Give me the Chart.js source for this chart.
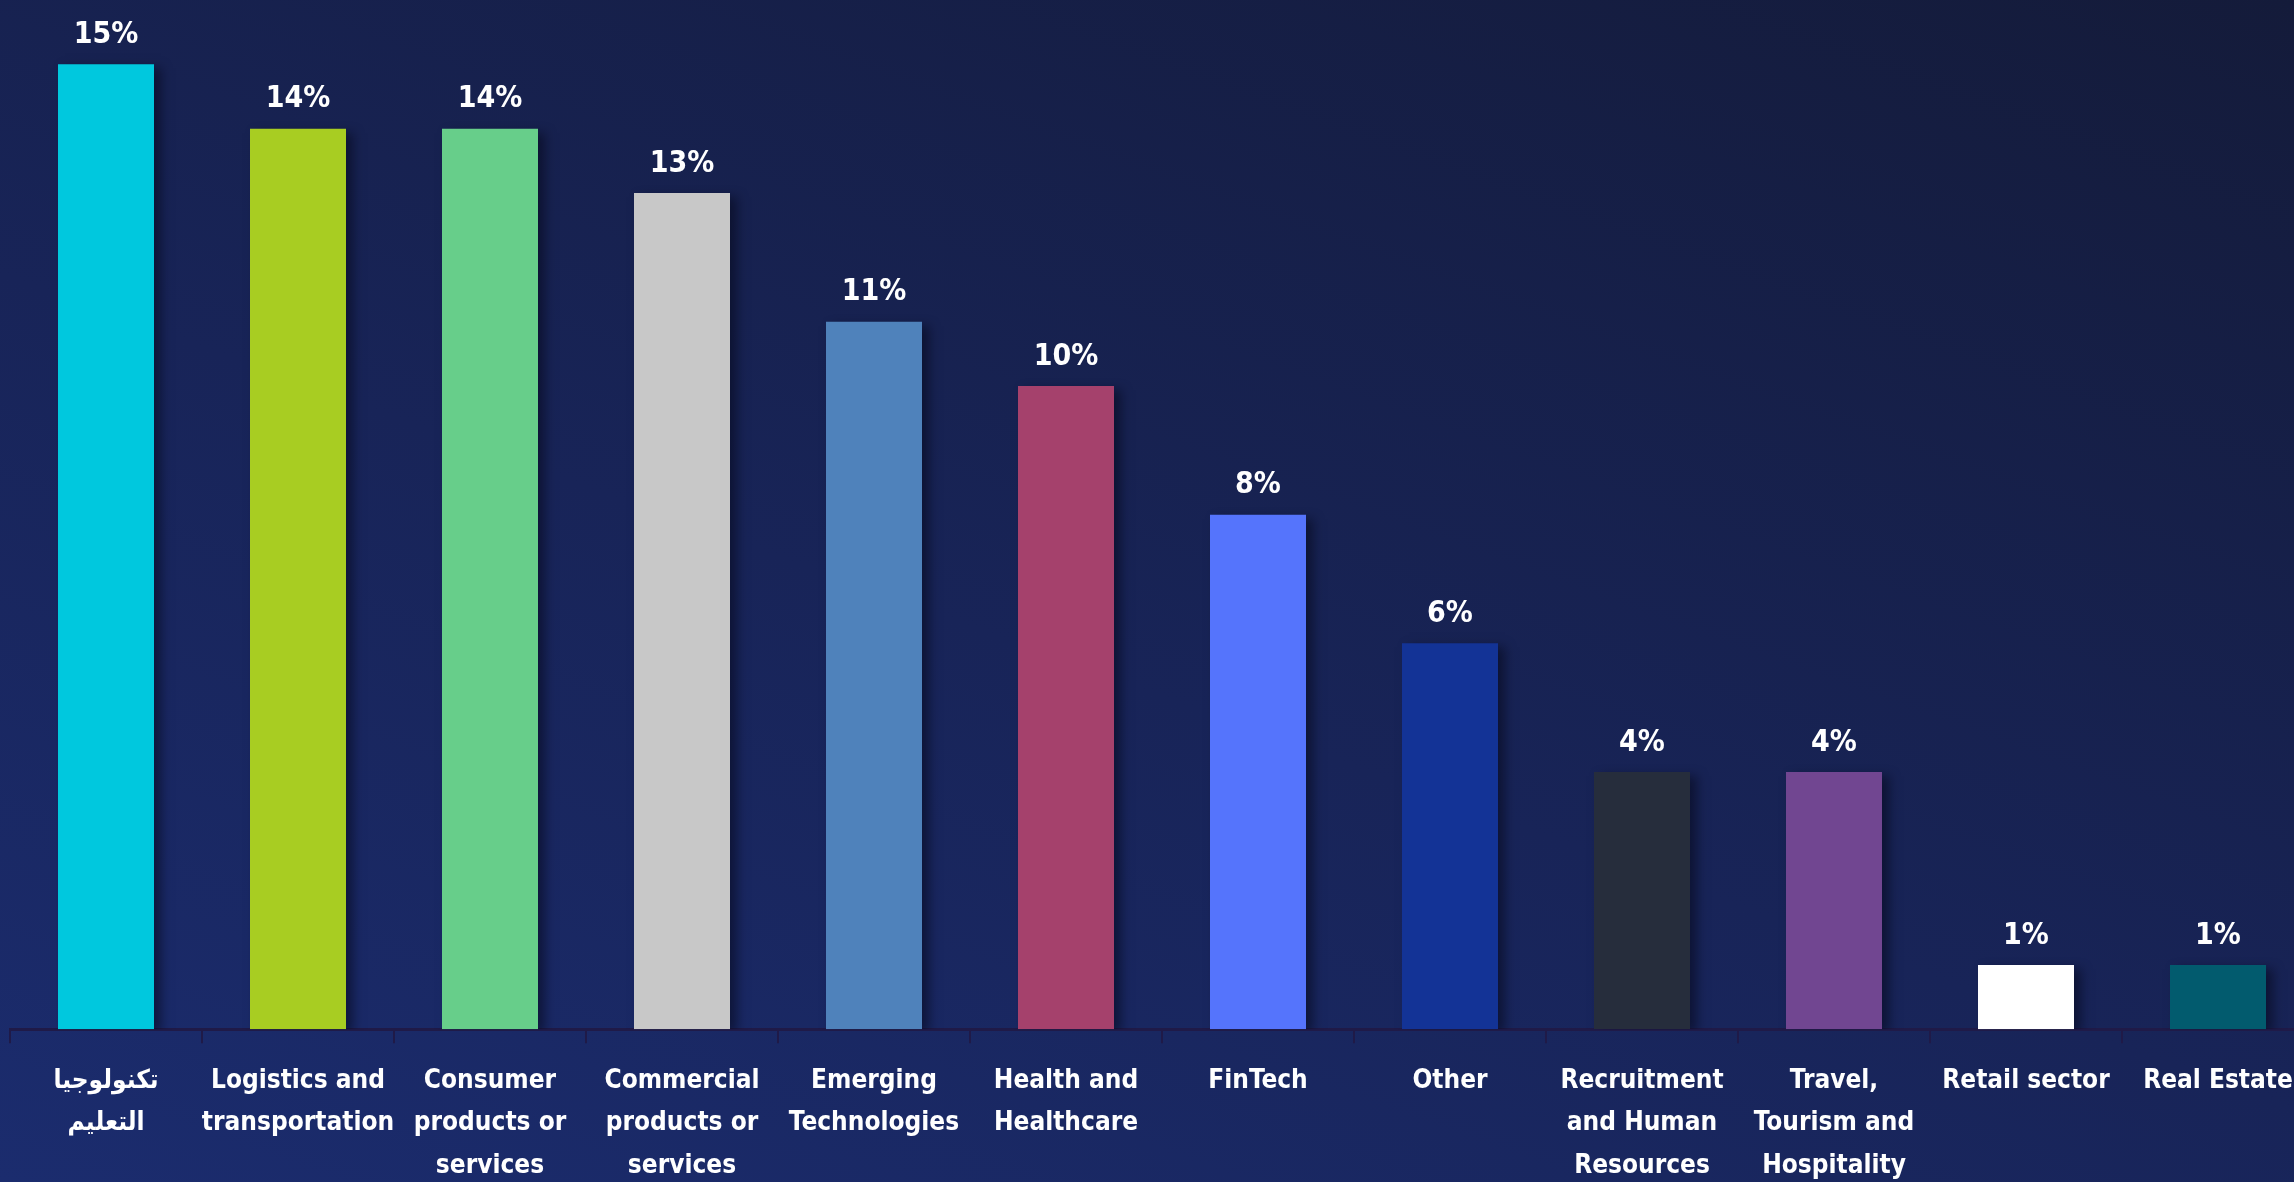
<!DOCTYPE html>
<html>
<head>
<meta charset="utf-8">
<script src="https://cdn.jsdelivr.net/npm/chart.js@4"></script>
<style>
  html, body { margin: 0; padding: 0; overflow: hidden; }
  body {
    width: 2294px; height: 1182px;
    background: linear-gradient(20deg, #1b2c6e 0%, #182458 45%, #141b3a 100%);
  }
  #wrap { position: absolute; left: 0; top: 0; width: 2320px; height: 1204px; }
</style>
</head>
<body>
<div id="wrap"><canvas id="chart"></canvas></div>
<script>
// sectors and shares (%)
const sectors = [
  ["تكنولوجيا", "التعليم"],
  ["Logistics and", "transportation"],
  ["Consumer", "products or", "services"],
  ["Commercial", "products or", "services"],
  ["Emerging", "Technologies"],
  ["Health and", "Healthcare"],
  ["FinTech"],
  ["Other"],
  ["Recruitment", "and Human", "Resources"],
  ["Travel,", "Tourism and", "Hospitality"],
  ["Retail sector"],
  ["Real Estate"],
];
const shares = [15, 14, 14, 13, 11, 10, 8, 6, 4, 4, 1, 1];
const barColors = [
  "#00c8de", "#a8cd22", "#67ce8a", "#c8c8c8", "#4f82bb", "#a5416c",
  "#5574fc", "#133396", "#262d3c", "#714691", "#ffffff", "#025b6e",
];

const FONT = "'DejaVu Sans Condensed', 'DejaVu Sans', sans-serif";

// drop shadow behind the bars
const barShadow = {
  id: "barShadow",
  beforeDatasetsDraw(chart) {
    const ctx = chart.ctx;
    ctx.save();
    ctx.shadowColor = "rgba(5, 8, 25, 0.55)";
    ctx.shadowBlur = 10;
    ctx.shadowOffsetX = 7;
    ctx.shadowOffsetY = 4;
  },
  afterDatasetsDraw(chart) {
    chart.ctx.restore();
  },
};

// value labels above each bar
const valueLabels = {
  id: "valueLabels",
  afterDatasetsDraw(chart) {
    const ctx = chart.ctx;
    const meta = chart.getDatasetMeta(0);
    ctx.save();
    ctx.fillStyle = "#ffffff";
    ctx.font = "bold 30px " + FONT;
    ctx.textAlign = "center";
    ctx.textBaseline = "bottom";
    meta.data.forEach((bar, i) => {
      ctx.fillText(shares[i] + "%", bar.x, bar.y - 14);
    });
    ctx.restore();
  },
};

new Chart(document.getElementById("chart"), {
  type: "bar",
  data: {
    labels: sectors,
    datasets: [{
      data: shares,
      backgroundColor: barColors,
      borderWidth: 0,
      barPercentage: 0.5,
      categoryPercentage: 1,
    }],
  },
  options: {
    responsive: true,
    maintainAspectRatio: false,
    animation: false,
    layout: { padding: { left: 10, right: 6, top: 0, bottom: 0 } },
    plugins: { legend: { display: false }, tooltip: { enabled: false } },
    scales: {
      x: {
        border: { display: true, color: "#1f1a48", width: 3 },
        grid: {
          display: true,
          drawOnChartArea: false,
          drawTicks: true,
          tickLength: 14,
          color: "#1f1a48",
          lineWidth: 2,
        },
        ticks: {
          color: "#ffffff",
          font: { family: FONT, size: 26, weight: "bold", lineHeight: 1.65 },
          maxRotation: 0,
          autoSkip: false,
          padding: 16,
        },
      },
      y: {
        display: false,
        min: 0,
        max: 16,
      },
    },
  },
  plugins: [barShadow, valueLabels],
});
</script>
</body>
</html>
